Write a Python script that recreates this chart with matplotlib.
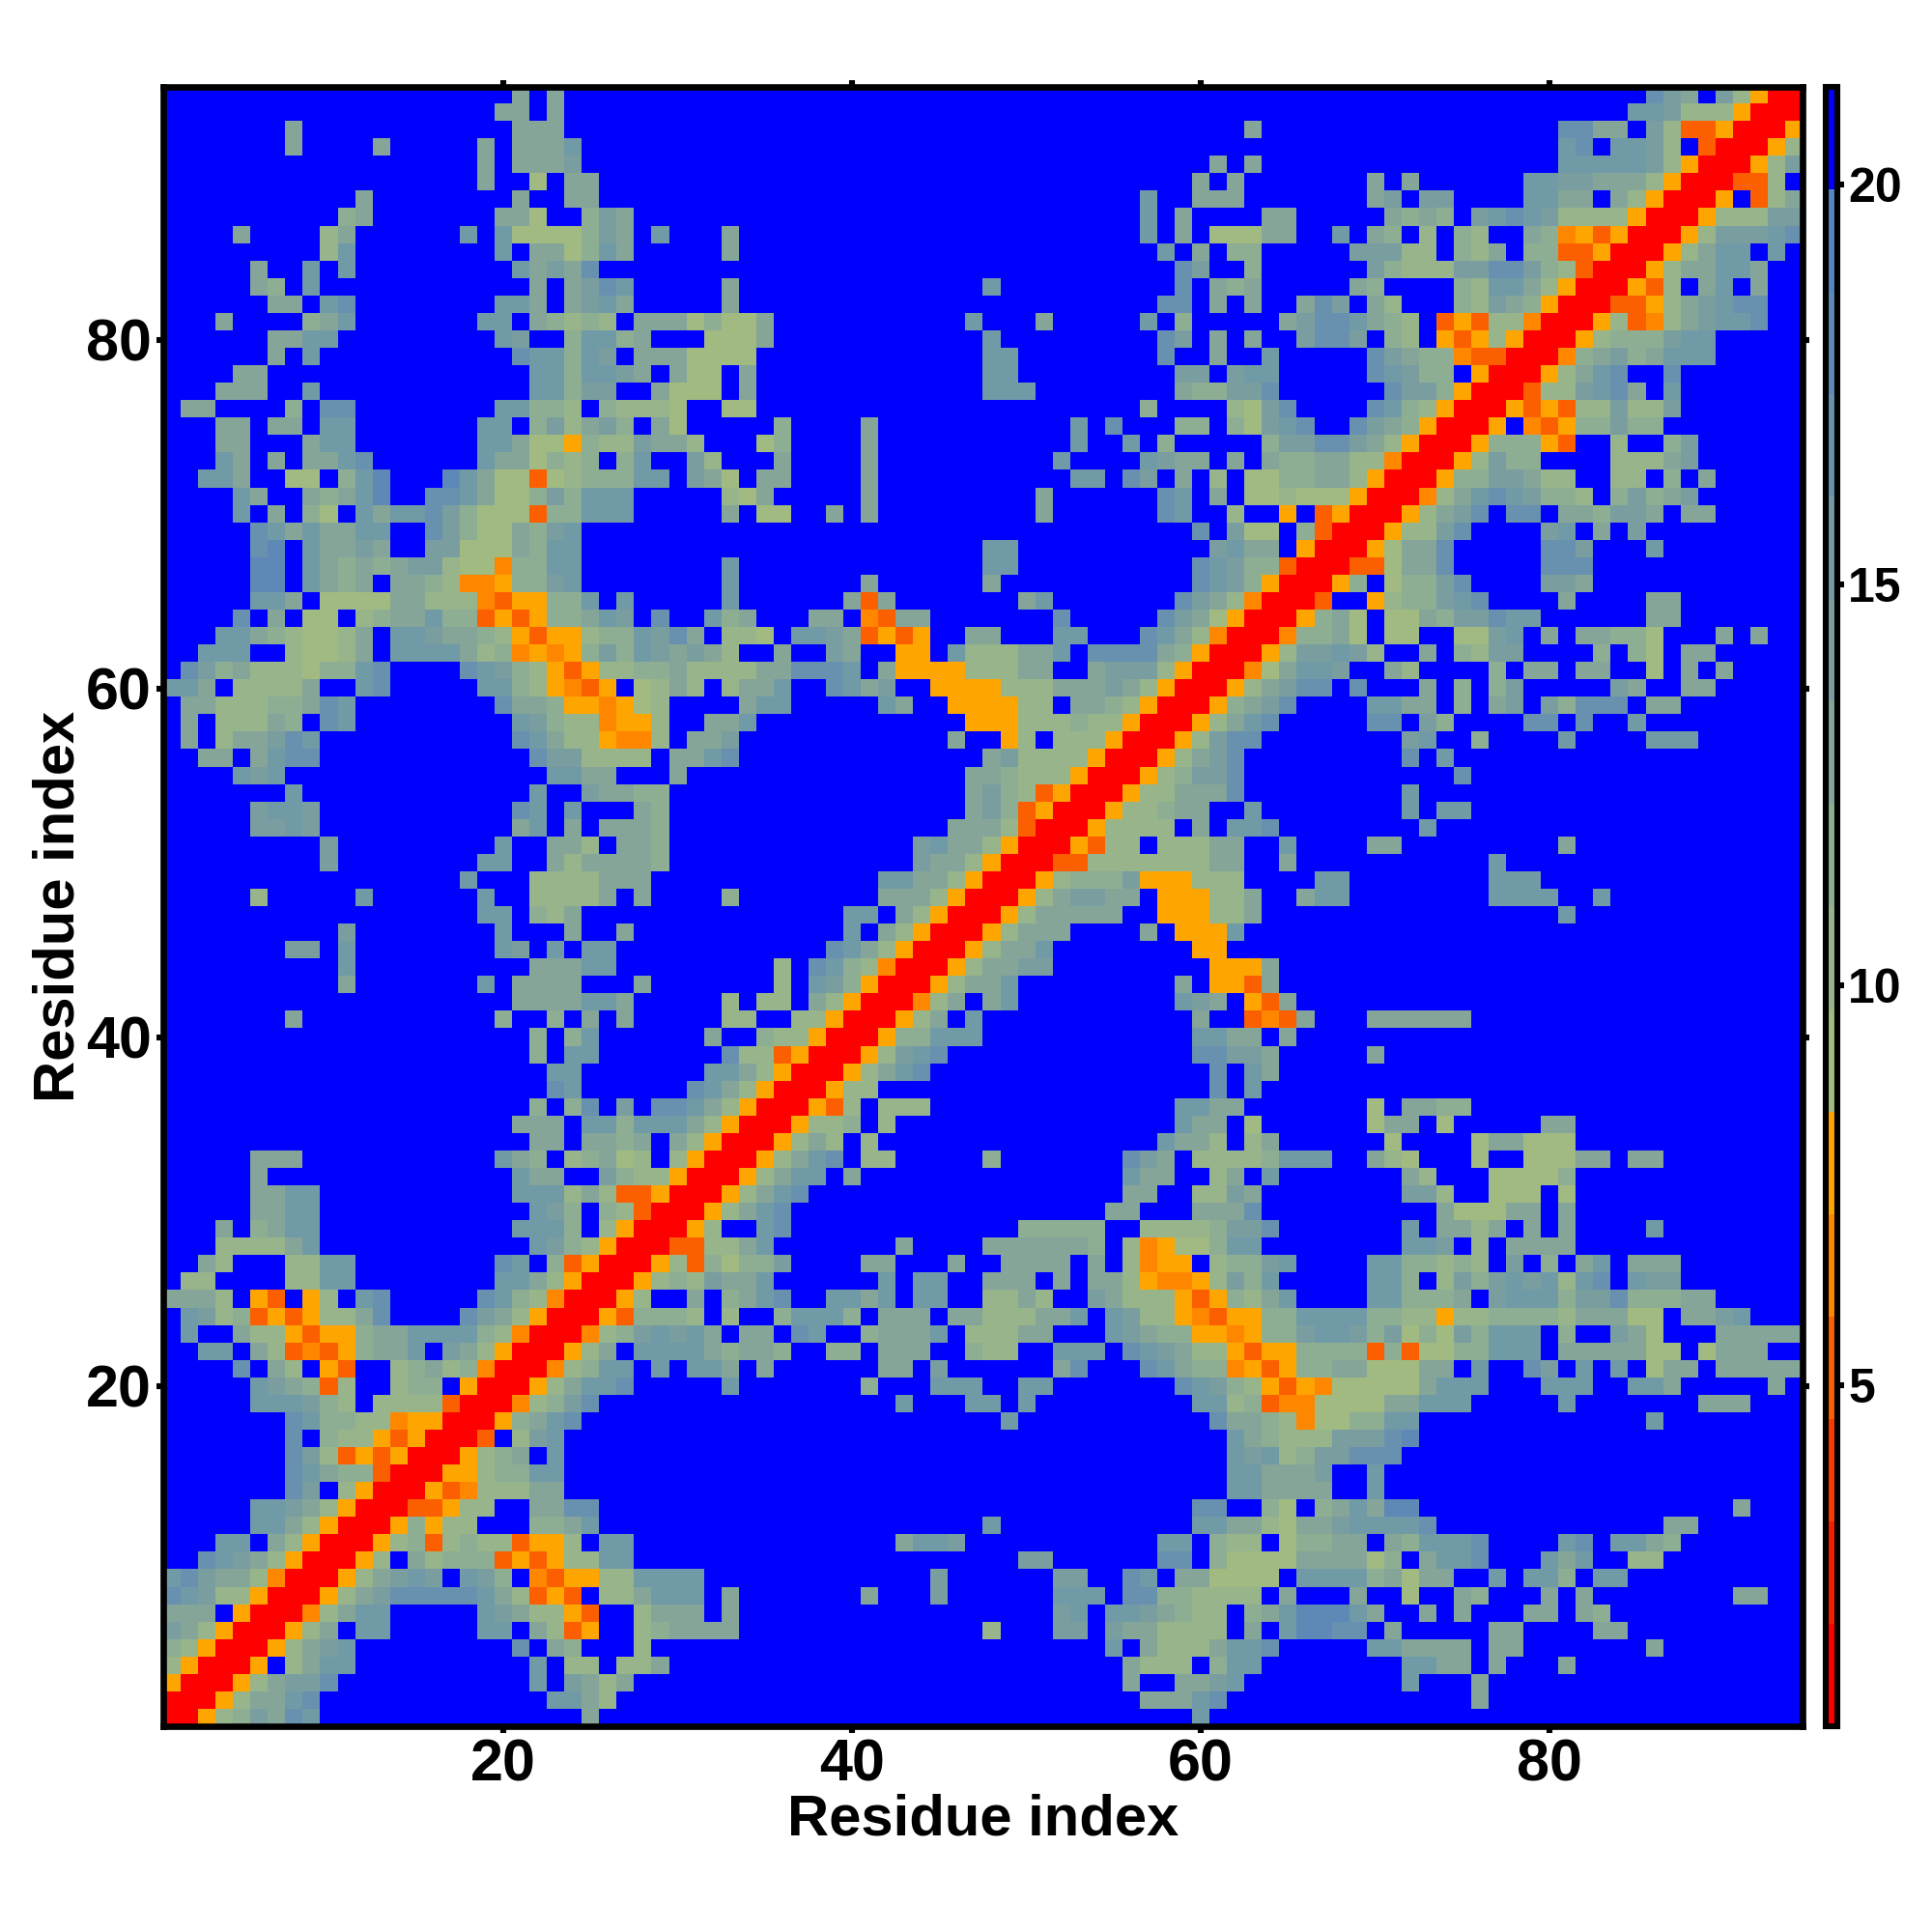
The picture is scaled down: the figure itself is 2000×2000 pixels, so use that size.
import numpy as np
import matplotlib
matplotlib.use("Agg")
import matplotlib.pyplot as plt
from matplotlib.colors import ListedColormap, BoundaryNorm
from matplotlib.cm import ScalarMappable

plt.rcParams['font.family'] = ['Liberation Sans', 'DejaVu Sans']
plt.rcParams['font.weight'] = 'bold'

n_res = 94

# distance bins of the colour key
bin_low = 0.74
bin_width = 1.28
n_bins = 16
bin_codes = "0123456789abcdef"

# upper triangle of the map, one string per residue, "first residue:bin codes"
# "." = no contact (top bin), everything not listed is also top bin
map_rows = [
    "1:00578a9cb 25:9 60:b",
    "2:005799bc 23:bb97 57:999bc 76:9",
    "3:00579aac 22:b 24:a979 56:9 59:99ab 72:b 76:9",
    "4:005.79bb 22:b 24:77 27:779 56:9777 61:8bb 72:bb99 77:9 81:9",
    "5:00579ab 21:c 23:98 28:7 55:b 57:9777 61:9bbc 70:bb 72:9999 77:99 86:9",
    "6:00579.bb 19:bb 22:9735 28:789999 48:7 52:aa 55:a997777 63:9 65:bddcc 71:9 77:99 83:99",
    "7:00479bb 19:ba97753 28:7999 33:9 52:ab 55:bba9877 63:8 64:9bdddb9 73:9 75:9 79:99 82:98",
    "8:00579acccccb97353 26:779bbb 33:9 41:9 45:a 52:bbb 56:cc887777 65:9 69:9 72:6 75:98 80:9 82:9 91:99",
    "9:00579aba.ba8.435577bbbb 45:a 52:aa 56:cb 59:996666 66:bbbb89699 77:b 79:bb8 83:bb",
    "10:0057.97888353577bb 50:aa 58:cc.86666 66:999968.9bbc 80:b9b 85:77",
    "11:00578378773557.bb 43:9bba 58:bb.877 65:68899 71:98bbbc 81:bc 84:bb98",
    "12:0058577...889b 48:b 60:bb997699abbbbc 87:99",
    "13:0033577..99cc 60:cc 64:86.89b9dd 91:9",
    "14:0053477799 62:bb9999 70:b",
    "15:0055788bb 62:bb999a 70:b",
    "16:005789.b 62:bab78aaccc",
    "17:003.7ab 62:b98777aaacd",
    "18:00589bc 49:b 61:c998746688bb 86:b",
    "19:00478ac 43:b 47:bb 50:b 60:bb78344666699bbb 81:b 89:999",
    "20:00579bbc 33:b 41:8 45:bbb 50:bb 59:cba875354666669bbb 80:bbb 85:bb9 93:9",
    "21:00478bb.b.bb9 35:9 42:99 45:a 52:9c 57:cb9884535889966699.b 79:ca 82:b 84:b 86:699 90:99999",
    "22:00579.bbbb98998 39:88 42:999 47:877 52:bbb 56:cba977535588883836688bbb 81:9999966 89:6999",
    "23:00478abab9.99.cb 41:8999b 47:77799 55:ba988554588abba8a686a8bbb 81:8 84:a96 90:99999",
    "24:00538887.7..8bbb8 42:999 46:9977799 53:b 55:ba775435588bbbb88775778888799966 88:99ab",
    "25:0057..9.89bc 39:bb9b 44:bb 48:7797 54:a9777535879b 70:bb8889.abbb8aac88899",
    "26:005787a99b 42:b 44:bb 48:999 52:9 54:99754457a8b 70:bb8.7a8abab7bc 85:baa",
    "27:005738688a 41:99 46:9 49:9999 54:9 56:7455.788ab 70:bb88787.a.8.9b.999",
    "28:0033779b 43:9 48:9999998 56:745668bb 72:bba.7.9999",
    "29:0057..bc 50:88888 57:77778aac 72:b 74:9979.9.9 86:b",
    "30:00579bc 55:99 60:999c 74:966699.9",
    "31:00579bc 56:99 60:77a9 72:aa7 77:666.6",
    "32:00579bb.9 56:b99 61:79.b 72:97 77:66668",
    "33:00579bc.77 48:8 56:ca9 60:77778bbb 70:976 76:6 79:66699 85:99",
    "34:005797.7 58:b997.79 71:6 76:699666",
    "35:005778.7 59:b99 63:6 70:699 74:6 80:99",
    "36:00537.777 59:bb99 70:6 72:9988",
    "37:00577 61:c 63:b",
    "38:00579bc 61:c 63:b9",
    "39:0057abc 60:ccaa9 70:9",
    "40:00588bbb 60:bb99.9",
    "41:00579.b 60:9 63:3439 70:999999",
    "42:00479.9b 59:ba9.539",
    "43:005799b 59:9 61:5539",
    "44:005799aa 61:5559",
    "45:005799b 60:55",
    "46:0057999 57:9 59:555b",
    "47:005799999 58:555779 81:b",
    "48:00579aa99 58:555779 66:9bb 77:bbbb 83:b",
    "49:0057888a555777 67:bb 77:bbb",
    "50:0033777777799 65:9 77:b",
    "51:005377.77799 65:b 70:99 81:9",
    "52:0057777.9.bbc 73:b",
    "53:00577899..b 72:b 74:bb",
    "54:00577999c 72:b",
    "55:00578aac 75:c",
    "56:00579ac 72:c 74:b",
    "57:0057acc 72:ab 76:8 81:b 86:bbb",
    "58:00579bc 70:cc.a8 79:cc.c 85:b",
    "59:00589ac 70:bb99 75:8 77:9a 80:a8ccc 86:99",
    "60:00579acc.c 73:9 75:8 77:8a 84:a9 88:99",
    "61:00469bba 71:97 77:8 79:99 82:99 86:6 88:9 90:9",
    "62:0057aaba7 73:9 75:87aa 83:8 85:86 88:99",
    "63:0048896.66 75:66ab 80:9 82:9988 86:6 90:9 92:9",
    "64:005896.6698aacbb 86:99",
    "65:003..5788abc 81:9 86:99",
    "66:0058.688ac 80:aa9",
    "67:0033699c 80:ccc",
    "68:005699c 80:cca 86:b",
    "69:00577ac 80:ab 83:9 85:a",
    "70:00579ac 78:cc 81:998aa9 88:99",
    "71:00479bcba887 84:8a89a",
    "72:00588aa977 84:77 87:8 89:9",
    "73:0057a88 84:7779a",
    "74:00588853 84:7 87:8a",
    "75:005.43588a88",
    "76:00535377a77a",
    "77:00377abc9.b",
    "78:00579bc..c",
    "79:00489a89bbb",
    "80:0057888abb",
    "81:00573479abbc",
    "82:0033579abcc",
    "83:00537.9b.9",
    "84:005799bb9",
    "85:00579bb.b",
    "86:0057aaabc",
    "87:005777aa",
    "88:005.379",
    "89:00337",
    "90:0057a",
    "91:0057",
    "92:005",
    "93:00",
    "94:0",
]

bin_colors = ["#ff0000", "#f51e00", "#f83c00", "#fb5f00", "#ff8700", "#ffa500",
              "#a0ba82", "#97b48b", "#8eae94", "#84a598", "#7a9ea0", "#719aa7",
              "#6890af", "#5e89b6", "#5585bd", "#0000ff"]
x_ticks = [20, 40, 60, 80]
key_ticks = [5, 10, 15, 20]

edges = bin_low + bin_width * np.arange(n_bins + 1)
centres = (edges[:-1] + edges[1:]) / 2

# fill the map, all no contact to start with, then mirror across the diagonal
dist = np.full((n_res, n_res), centres[-1])
for row in map_rows:
    for token in row.split():
        start, codes = token.split(":")
        start = int(start)
        i = int(row.split(":")[0]) - 1
        for k, c in enumerate(codes):
            if c != ".":
                j = start - 1 + k
                dist[i, j] = centres[bin_codes.index(c)]
                dist[j, i] = dist[i, j]

cmap = ListedColormap(bin_colors)
norm = BoundaryNorm(edges, cmap.N)

fig = plt.figure(figsize=(10, 10), dpi=200)
ax = fig.add_axes([169 / 2000, 1 - 1787 / 2000, 1697 / 2000, 1697 / 2000])
ax.imshow(dist, origin="lower", cmap=cmap, norm=norm, aspect="auto",
          interpolation="nearest", extent=(0.5, n_res + 0.5, 0.5, n_res + 0.5))

ax.set_xticks(x_ticks)
ax.set_yticks(x_ticks)
ax.tick_params(axis="both", which="major", length=2.5, width=2.2, labelsize=22,
               top=True, right=True, pad=2)
for s in ax.spines.values():
    s.set_linewidth(2.4)
ax.set_xlabel("Residue index", fontsize=21.5, fontweight="bold", labelpad=0)
ax.set_ylabel("Residue index", fontsize=21.5, fontweight="bold", labelpad=0)

# colour key
cax = fig.add_axes([1889.5 / 2000, 1 - 1787 / 2000, 12.5 / 2000, 1697 / 2000])
cb = fig.colorbar(ScalarMappable(norm=norm, cmap=cmap), cax=cax,
                  spacing="proportional", ticks=key_ticks)
cb.outline.set_linewidth(2.2)
cb.ax.minorticks_off()
cb.ax.tick_params(length=2.5, width=2.2, labelsize=18, pad=1.5)

fig.savefig("out.png", dpi=200)
